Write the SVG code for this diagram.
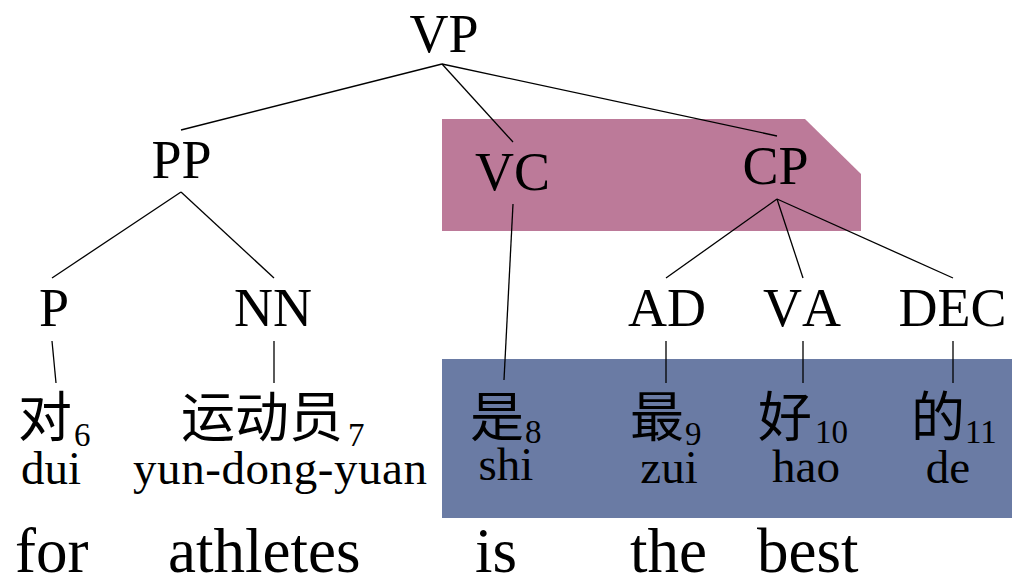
<svg xmlns="http://www.w3.org/2000/svg" width="1012" height="577" viewBox="0 0 1012 577">
  <style>
    .lbl { font-family: "Liberation Serif", "Times New Roman", serif; font-size: 54px; fill: #000; text-anchor: middle; font-kerning: none; }
    .zh { font-family: "Liberation Serif", "Noto Sans CJK SC", serif; font-size: 54px; fill: #000; }
    .sub { font-family: "Liberation Serif", serif; font-size: 33px; fill: #000; }
    .py { font-family: "Liberation Serif", serif; font-size: 47px; fill: #000; text-anchor: middle; }
    .en { font-family: "Liberation Serif", serif; font-size: 63px; fill: #000; }
    .edge { stroke: #000; stroke-width: 1.3; fill: none; }
  </style>

  <!-- highlighted regions -->
  <g id="highlights">
    <polygon points="442,119 805,119 861,174 861,231 442,231" fill="#bc7a99"/>
    <rect x="442" y="359" width="570" height="159" fill="#6a7ba4"/>
  </g>

  <!-- tree edges -->
  <g id="connectors" class="edge">
    <line x1="442" y1="64" x2="181" y2="130"/>
    <line x1="442" y1="64" x2="513" y2="142"/>
    <line x1="442" y1="64" x2="777" y2="136"/>
    <line x1="181" y1="192" x2="52" y2="278"/>
    <line x1="181" y1="192" x2="274" y2="278"/>
    <line x1="777" y1="199" x2="666" y2="278"/>
    <line x1="777" y1="199" x2="803" y2="278"/>
    <line x1="777" y1="199" x2="953" y2="278"/>
    <line x1="513" y1="204" x2="504" y2="380"/>
    <line x1="52" y1="341" x2="56" y2="383"/>
    <line x1="274" y1="341" x2="274" y2="383"/>
    <line x1="666" y1="341" x2="666" y2="383"/>
    <line x1="803" y1="341" x2="803" y2="383"/>
    <line x1="953" y1="341" x2="953" y2="383"/>
  </g>

  <!-- phrase nodes -->
  <g id="node-VP"><text class="lbl" x="444" y="52">VP</text></g>
  <g id="node-PP"><text class="lbl" x="181.5" y="178">PP</text></g>
  <g id="node-VC"><text class="lbl" x="512.5" y="190">VC</text></g>
  <g id="node-CP"><text class="lbl" x="775.5" y="184">CP</text></g>

  <!-- part-of-speech nodes -->
  <g id="node-P"><text class="lbl" x="54" y="326">P</text></g>
  <g id="node-NN"><text class="lbl" x="273" y="326">NN</text></g>
  <g id="node-AD"><text class="lbl" x="667" y="326">AD</text></g>
  <g id="node-VA"><text class="lbl" x="802" y="326">VA</text></g>
  <g id="node-DEC"><text class="lbl" x="952.5" y="326">DEC</text></g>

  <!-- words: hanzi with index, pinyin below -->
  <g id="word-dui">
    <text class="zh" x="18" y="437">对</text>
    <text class="sub" x="74" y="446">6</text>
    <text class="py" x="51" y="484">dui</text>
  </g>
  <g id="word-yundongyuan">
    <text class="zh" x="181" y="437">运动员</text>
    <text class="sub" x="348" y="446">7</text>
    <text class="py" x="280" y="484" textLength="294" lengthAdjust="spacing">yun-dong-yuan</text>
  </g>
  <g id="word-shi">
    <text class="zh" x="470" y="437">是</text>
    <text class="sub" x="525" y="443">8</text>
    <text class="py" x="506" y="480">shi</text>
  </g>
  <g id="word-zui">
    <text class="zh" x="630" y="437">最</text>
    <text class="sub" x="685" y="445">9</text>
    <text class="py" x="669" y="483">zui</text>
  </g>
  <g id="word-hao">
    <text class="zh" x="758" y="437">好</text>
    <text class="sub" x="815" y="443">10</text>
    <text class="py" x="806" y="482">hao</text>
  </g>
  <g id="word-de">
    <text class="zh" x="911" y="437">的</text>
    <text class="sub" x="965" y="443">11</text>
    <text class="py" x="948" y="483">de</text>
  </g>

  <!-- English gloss -->
  <g id="gloss">
    <text class="en" x="15" y="572">for</text>
    <text class="en" x="168" y="572">athletes</text>
    <text class="en" x="475" y="572">is</text>
    <text class="en" x="630" y="572">the</text>
    <text class="en" x="757" y="572">best</text>
  </g>
</svg>
